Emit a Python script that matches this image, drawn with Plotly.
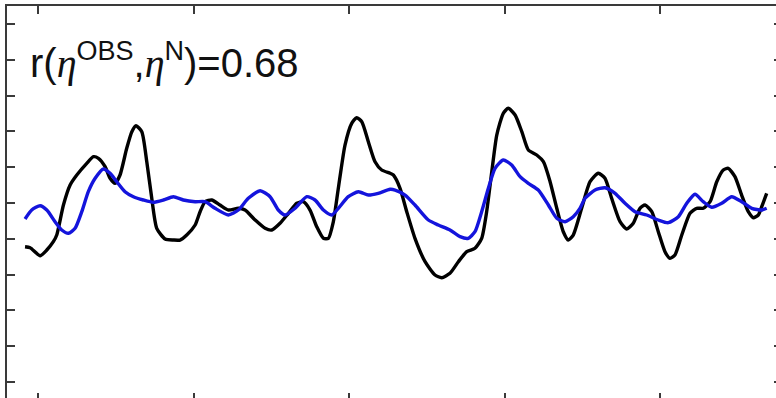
import plotly.graph_objects as go

# Observed eta (black)
obs_year = [1959.16, 1959.49, 1960.13, 1960.56, 1960.98, 1961.20, 1961.63, 1962.06, 1962.49, 1963.13,
            1963.56, 1963.88, 1964.31, 1964.63, 1964.95, 1965.27, 1965.70, 1966.03, 1966.30, 1966.67,
            1966.99, 1967.31, 1967.63, 1968.17, 1968.70, 1969.13, 1969.56, 1970.10, 1970.42, 1970.74,
            1971.17, 1971.70, 1972.24, 1972.88, 1973.31, 1973.96, 1974.60, 1975.03, 1975.56, 1976.10,
            1976.64, 1977.06, 1977.49, 1977.92, 1978.35, 1978.67, 1978.99, 1979.31, 1979.74, 1980.17,
            1980.49, 1980.82, 1981.24, 1981.67, 1982.10, 1982.64, 1982.85, 1983.28, 1983.71, 1984.24,
            1984.89, 1985.53, 1985.96, 1986.49, 1987.03, 1987.57, 1988.10, 1988.53, 1988.85, 1989.18,
            1989.50, 1989.92, 1990.24, 1990.68, 1991.11, 1991.53, 1992.07, 1992.50, 1992.93, 1993.36,
            1993.78, 1994.10, 1994.42, 1994.96, 1995.50, 1996.03, 1996.46, 1996.89, 1997.43, 1997.86,
            1998.28, 1998.71, 1999.04, 1999.47, 1999.89, 2000.32, 2000.64, 2000.96, 2001.40, 2001.93,
            2002.36, 2002.78, 2003.22, 2003.65, 2004.07, 2004.39, 2004.82, 2005.25, 2005.68, 2006.00,
            2006.32, 2006.58, 2006.86]
obs_eta = [-1.221, -1.249, -1.472, -1.313, -1.081, -0.894, -0.056, 0.503, 0.782, 1.109,
           1.293, 1.249, 1.014, 0.690, 0.550, 0.782, 1.528, 1.992, 2.159, 1.992,
           1.154, 0.131, -0.707, -1.006, -1.034, -1.034, -0.894, -0.615, -0.243, 0.036,
           0.084, -0.056, -0.196, -0.148, -0.196, -0.475, -0.707, -0.754, -0.567, -0.288,
           -0.008, 0.036, -0.196, -0.662, -0.986, -0.986, -0.522, 0.411, 1.620, 2.226,
           2.383, 2.271, 1.712, 1.154, 0.922, 0.830, 0.782, 0.411, -0.243, -0.986,
           -1.640, -2.011, -2.087, -1.964, -1.640, -1.360, -1.265, -0.986, -0.243, 0.874,
           1.899, 2.506, 2.645, 2.458, 1.992, 1.480, 1.341, 1.154, 0.595, -0.148,
           -0.802, -1.034, -0.894, -0.148, 0.595, 0.830, 0.690, 0.131, -0.522, -0.726,
           -0.567, -0.148, -0.056, -0.243, -0.802, -1.360, -1.545, -1.453, -0.894, -0.288,
           -0.148, -0.148, 0.036, 0.595, 0.922, 0.969, 0.735, 0.223, -0.243, -0.411,
           -0.335, -0.056, 0.271]

# Modelled eta N (blue)
mod_year = [1959.16, 1959.59, 1960.13, 1960.56, 1961.09, 1961.52, 1961.95, 1962.38, 1962.81, 1963.23,
            1963.67, 1964.20, 1964.63, 1965.06, 1965.59, 1966.13, 1966.77, 1967.41, 1968.06, 1968.70,
            1969.34, 1970.10, 1970.74, 1971.38, 1972.24, 1972.88, 1973.52, 1974.28, 1974.92, 1975.45,
            1975.88, 1976.53, 1977.28, 1977.81, 1978.35, 1978.89, 1979.31, 1979.95, 1980.60, 1981.24,
            1981.88, 1982.64, 1982.96, 1983.60, 1984.24, 1985.10, 1985.74, 1986.49, 1987.14, 1987.67,
            1988.10, 1988.53, 1988.96, 1989.39, 1989.92, 1990.46, 1991.00, 1991.53, 1992.17, 1992.82,
            1993.36, 1993.89, 1994.42, 1994.85, 1995.18, 1995.82, 1996.46, 1997.11, 1997.75, 1998.39,
            1999.14, 1999.89, 2000.53, 2001.18, 2001.72, 2002.25, 2002.78, 2003.33, 2003.97, 2004.61,
            2005.25, 2005.90, 2006.54, 2006.86]
mod_eta = [-0.447, -0.196, -0.075, -0.196, -0.522, -0.754, -0.846, -0.707, -0.243, 0.316,
           0.690, 0.950, 0.830, 0.595, 0.316, 0.176, 0.084, 0.020, 0.084, 0.176,
           0.084, 0.036, 0.036, -0.148, -0.335, -0.196, 0.131, 0.344, 0.176, -0.196,
           -0.335, -0.148, 0.176, 0.084, -0.196, -0.335, -0.148, 0.176, 0.316, 0.223,
           0.271, 0.383, 0.363, 0.223, -0.056, -0.475, -0.615, -0.754, -0.941, -0.986,
           -0.802, -0.243, 0.411, 0.969, 1.201, 1.061, 0.735, 0.550, 0.363, -0.056,
           -0.427, -0.522, -0.383, -0.148, 0.131, 0.363, 0.427, 0.271, -0.008, -0.243,
           -0.335, -0.475, -0.550, -0.383, -0.008, 0.243, 0.036, -0.120, -0.008, 0.176,
           0.036, -0.148, -0.196, -0.148]

x_ticks = [1960, 1970, 1980, 1990, 2000]
y_ticks = [-5, -4, -3, -2, -1, 0, 1, 2, 3, 4, 5]
x_range = [1958.0, 2007.46]
y_range = [-5.447, 5.503]

AX = "#3a3a3a"

fig = go.Figure()
fig.add_trace(go.Scatter(x=obs_year, y=obs_eta, mode="lines",
                         line=dict(color="#000000", width=3.4, shape="spline", smoothing=0.6),
                         xaxis="x", yaxis="y", showlegend=False, hoverinfo="skip"))
fig.add_trace(go.Scatter(x=mod_year, y=mod_eta, mode="lines",
                         line=dict(color="#1414dc", width=3.4, shape="spline", smoothing=0.6),
                         xaxis="x2", yaxis="y2", showlegend=False, hoverinfo="skip"))

common_x = dict(range=x_range, tickvals=x_ticks, showticklabels=False, showgrid=False,
                zeroline=False, ticks="inside", tickcolor=AX, tickwidth=1.5)
common_y = dict(range=y_range, tickvals=y_ticks, showticklabels=False, showgrid=False,
                zeroline=False, ticks="inside", tickcolor=AX, tickwidth=1.5)

fig.update_layout(
    width=776, height=398,
    margin=dict(l=7, r=0, t=6, b=0),
    paper_bgcolor="white", plot_bgcolor="white",
    xaxis=dict(**common_x, side="top", ticklen=8, showline=True, linecolor=AX, linewidth=1.5),
    xaxis2=dict(**common_x, side="bottom", overlaying="x", ticklen=5, showline=False),
    yaxis=dict(**common_y, side="left", ticklen=8, showline=True, linecolor=AX, linewidth=1.5),
    yaxis2=dict(**common_y, side="right", overlaying="y", ticklen=2, showline=False),
    font=dict(family="Liberation Sans, Arial, sans-serif", color="#111111"),
)

eta = "<span style='font-family:Liberation Serif'><i>η</i></span>"
label = ("r(" + eta + "<sup><span style='font-size:27px'>OBS</span></sup>,"
         + eta + "<sup><span style='font-size:27px'>N</span></sup>)=0.68")
fig.add_annotation(xref="paper", yref="paper", x=0.027, y=0.86, xanchor="left", yanchor="middle",
                   text=label, showarrow=False, font=dict(size=40, color="#111111"))

fig.write_html("out.html", config={"displayModeBar": False},
               post_script="document.body.style.margin='0px';")
